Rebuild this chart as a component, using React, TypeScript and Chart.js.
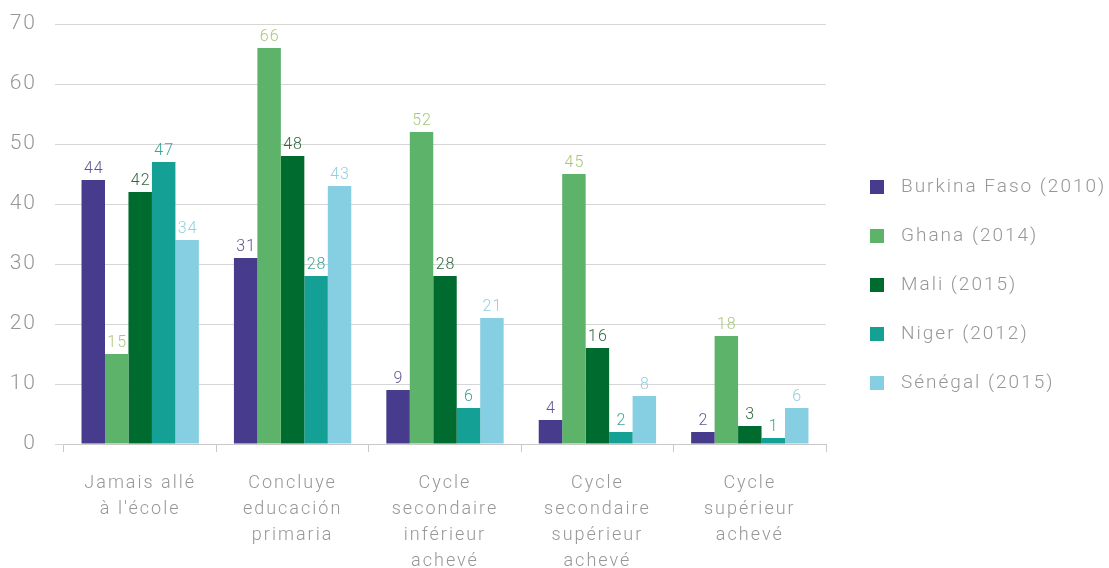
import React, { useEffect, useRef } from "react";
import { Chart, registerables } from "chart.js";

Chart.register(...registerables);

const categories: string[][] = [
  ["Jamais allé", "à l'école"],
  ["Concluye", "educación", "primaria"],
  ["Cycle", "secondaire", "inférieur", "achevé"],
  ["Cycle", "secondaire", "supérieur", "achevé"],
  ["Cycle", "supérieur", "achevé"],
];

const seriesNames = [
  "Burkina Faso (2010)",
  "Ghana (2014)",
  "Mali (2015)",
  "Niger (2012)",
  "Sénégal (2015)",
];

const burkina = [44, 31, 9, 4, 2];
const ghana = [15, 66, 52, 45, 18];
const mali = [42, 48, 28, 16, 3];
const niger = [47, 28, 6, 2, 1];
const senegal = [34, 43, 21, 8, 6];

const barColors = ["#463b8c", "#5db36a", "#006b2f", "#15a096", "#86cfe3"];
const labelColors = ["#5e5891", "#a9c77c", "#2f6a3e", "#3aa69a", "#8ed2e3"];

const yTicks = [0, 10, 20, 30, 40, 50, 60, 70];

const FONT = "'Roboto', 'DejaVu Sans', sans-serif";
const GREY = "#979797";

const spacing = {
  id: "spacing",
  beforeDraw(chart: any) {
    chart.ctx.letterSpacing = "2px";
  },
};

const valueLabels = {
  id: "valueLabels",
  afterDatasetsDraw(chart: any) {
    const ctx = chart.ctx;
    ctx.save();
    ctx.letterSpacing = "1px";
    ctx.font = `300 16px ${FONT}`;
    ctx.textAlign = "center";
    ctx.textBaseline = "bottom";
    chart.data.datasets.forEach((ds: any, i: number) => {
      const meta = chart.getDatasetMeta(i);
      ctx.fillStyle = labelColors[i];
      meta.data.forEach((el: any, j: number) => {
        ctx.fillText(String(ds.data[j]), el.x + 0.5, el.y - 3);
      });
    });
    ctx.restore();
  },
};

const sideLegend = {
  id: "sideLegend",
  afterDraw(chart: any) {
    const ctx = chart.ctx;
    ctx.save();
    ctx.letterSpacing = "2px";
    ctx.font = `300 19px ${FONT}`;
    ctx.textAlign = "left";
    ctx.textBaseline = "middle";
    const x0 = 870;
    const yStart = 187;
    const step = 49;
    chart.data.datasets.forEach((ds: any, i: number) => {
      const y = yStart + i * step;
      ctx.fillStyle = barColors[i];
      ctx.fillRect(x0, y - 7, 14, 14);
      ctx.fillStyle = GREY;
      ctx.fillText(ds.label, x0 + 31, y);
    });
    ctx.restore();
  },
};

export default function App() {
  const ref = useRef<HTMLCanvasElement | null>(null);

  useEffect(() => {
    if (!ref.current) return;
    const allSeries = [burkina, ghana, mali, niger, senegal];
    const chart = new Chart(ref.current, {
      type: "bar",
      data: {
        labels: categories,
        datasets: allSeries.map((d, i) => ({
          label: seriesNames[i],
          data: d,
          backgroundColor: barColors[i],
          borderWidth: 0,
          categoryPercentage: 0.77,
          barPercentage: 1.0,
        })),
      },
      options: {
        animation: false,
        responsive: false,
        maintainAspectRatio: false,
        devicePixelRatio: 1,
        layout: { padding: { left: 0, top: 24, right: 283, bottom: 0 } },
        plugins: {
          legend: { display: false },
          tooltip: { enabled: false },
        },
        scales: {
          x: {
            offset: true,
            grid: {
              display: true,
              offset: true,
              drawOnChartArea: false,
              drawTicks: true,
              tickLength: 8,
              color: "#c8c8c8",
            },
            border: { display: true, color: "#c8c8c8" },
            ticks: {
              color: GREY,
              font: { family: FONT, size: 18, weight: 300, lineHeight: 1.45 },
              padding: 18,
              maxRotation: 0,
              autoSkip: false,
            },
            afterFit: (scale: any) => {
              scale.height = 124;
              scale.paddingLeft = 0;
              scale.paddingRight = 0;
            },
          },
          y: {
            min: 0,
            max: 70,
            afterBuildTicks: (scale: any) => {
              scale.ticks = yTicks.map((v) => ({ value: v }));
            },
            grid: {
              color: "#d6d6d6",
              drawTicks: true,
              tickLength: 9,
            },
            border: { display: false },
            ticks: {
              color: GREY,
              font: { family: FONT, size: 21, weight: 300 },
              padding: 18,
            },
            afterFit: (scale: any) => {
              scale.width = 64;
              scale.paddingTop = 0;
              scale.paddingBottom = 0;
            },
          },
        },
      },
      plugins: [spacing, valueLabels, sideLegend],
    });
    return () => chart.destroy();
  }, []);

  return (
    <div style={{ position: "fixed", left: 0, top: 0, width: 1109, height: 568, background: "#fff" }}>
      <canvas ref={ref} width={1109} height={568} style={{ width: 1109, height: 568 }} />
    </div>
  );
}
